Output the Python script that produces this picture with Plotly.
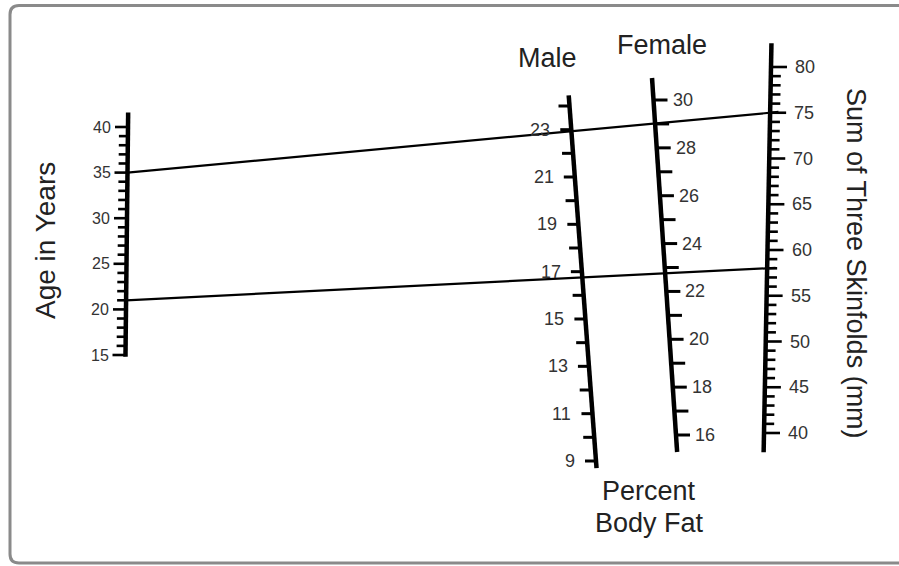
import plotly.graph_objects as go

# ---------------- data ----------------
age_ticks = list(range(15, 41))             # years, one tick per year
age_labels = [15, 20, 25, 30, 35, 40]
male_ticks = list(range(9, 25))             # percent body fat (male)
male_labels = [9, 11, 13, 15, 17, 19, 21, 23]
female_ticks = list(range(16, 31))          # percent body fat (female)
female_labels = [16, 18, 20, 22, 24, 26, 28, 30]
sum_ticks = list(range(40, 81))             # sum of skinfolds (mm)
sum_labels = [40, 45, 50, 55, 60, 65, 70, 75, 80]
example_age = [35, 21]
example_sum = [75, 58]

# ---------------- scale geometry (layout) ----------------
# each scale: two anchors (value, x, y) in page pixel space
SCALES = {
    "age":    ((40, 128.0, 127.0), (15, 125.5, 355.0)),
    "male":   ((24, 569.5, 106.0), (9, 596.0, 461.0)),
    "female": ((30, 653.5, 100.0), (16, 676.0, 435.0)),
    "sum":    ((80, 771.0, 67.0), (40, 764.0, 433.0)),
}


def pos(scale, v):
    (v0, x0, y0), (v1, x1, y1) = SCALES[scale]
    t = (v - v0) / (v1 - v0)
    return x0 + t * (x1 - x0), y0 + t * (y1 - y0)


fig = go.Figure()
BLACK = "#000000"
LABEL = "#333333"
FONT = "Liberation Sans, Arial, sans-serif"


def axis_line(scale, vtop, vbot):
    xa, ya = pos(scale, vtop)
    xb, yb = pos(scale, vbot)
    fig.add_trace(go.Scatter(x=[xa, xb], y=[ya, yb], mode="lines",
                             line=dict(color=BLACK, width=4.5),
                             hoverinfo="skip", showlegend=False))


def ticks(scale, values, direction, length_fn, width=3):
    xs, ys = [], []
    for v in values:
        x, y = pos(scale, v)
        L = length_fn(v)
        xs += [x, x + direction * L, None]
        ys += [y, y, None]
    fig.add_trace(go.Scatter(x=xs, y=ys, mode="lines",
                             line=dict(color=BLACK, width=width),
                             hoverinfo="skip", showlegend=False))


def labels(scale, values, direction, offset, size):
    for v in values:
        x, y = pos(scale, v)
        fig.add_annotation(x=x + direction * offset, y=y, text=str(v),
                           showarrow=False,
                           xanchor="right" if direction < 0 else "left",
                           yanchor="middle",
                           font=dict(family=FONT, size=size, color=LABEL))


# Age scale
axis_line("age", 41.6, 14.8)
ticks("age", age_ticks, -1, lambda v: 13 if v % 5 == 0 else 9, width=2.6)
labels("age", age_labels, -1, 15, 16)

# Male scale
axis_line("male", 24.45, 8.7)
ticks("male", male_ticks, -1, lambda v: 11)
labels("male", male_labels, -1, 19, 18)

# Female scale
axis_line("female", 30.92, 15.29)
ticks("female", female_ticks, 1, lambda v: 14)
labels("female", female_labels, 1, 17, 18)

# Sum scale
axis_line("sum", 82.6, 37.9)
ticks("sum", sum_ticks, 1, lambda v: 16 if v % 5 == 0 else 10, width=2.6)
labels("sum", sum_labels, 1, 22, 18)

# Example lines connecting age and skinfold sum
for a, s in zip(example_age, example_sum):
    xa, ya = pos("age", a)
    xs, ys = pos("sum", s)
    t = 1.013
    xe, ye = xa + t * (xs - xa), ya + t * (ys - ya)
    fig.add_trace(go.Scatter(x=[xa, xe], y=[ya, ye], mode="lines",
                             line=dict(color=BLACK, width=2.2),
                             hoverinfo="skip", showlegend=False))

# Titles
TFONT = dict(family=FONT, size=27, color="#222222")
fig.add_annotation(x=45, y=241, text="Age in Years", textangle=-90,
                   showarrow=False, font=dict(family=FONT, size=28, color="#222222"))
fig.add_annotation(x=856, y=263, text="Sum of Three Skinfolds (mm)", textangle=90,
                   showarrow=False, font=TFONT)
fig.add_annotation(x=547, y=58, text="Male", showarrow=False, font=TFONT)
fig.add_annotation(x=662, y=45, text="Female", showarrow=False, font=TFONT)
fig.add_annotation(x=649, y=491, text="Percent", showarrow=False, font=TFONT)
fig.add_annotation(x=649, y=523, text="Body Fat", showarrow=False, font=TFONT)

# Rounded frame (open to the right)
r = 9
frame = (f"M 905,5.5 L {10 + r},5.5 Q 10,5.5 10,{5.5 + r} "
         f"L 10,{563 - r} Q 10,563 {10 + r},563 L 905,563")
fig.add_shape(type="path", path=frame, xref="x", yref="y",
              line=dict(color="#8a8a8a", width=3), layer="below")

fig.update_layout(
    width=899, height=566,
    margin=dict(l=0, r=0, t=0, b=0),
    paper_bgcolor="white", plot_bgcolor="white",
    xaxis=dict(range=[0, 899], visible=False, fixedrange=True),
    yaxis=dict(range=[566, 0], visible=False, fixedrange=True),
    showlegend=False,
)

fig.write_html("out.html", config={"displayModeBar": False},
               post_script="document.body.style.margin='0';document.body.style.overflow='hidden';")
